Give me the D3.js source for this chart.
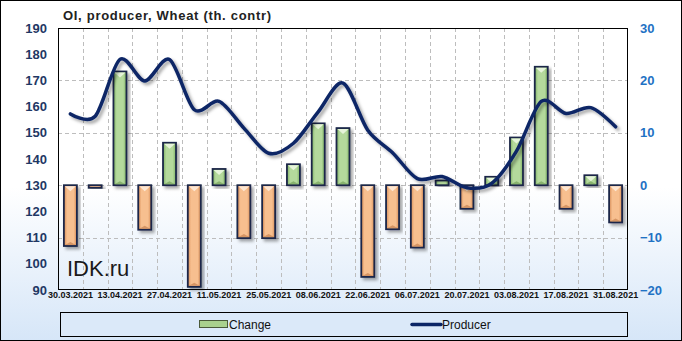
<!DOCTYPE html>
<html><head><meta charset="utf-8">
<script src="https://cdn.jsdelivr.net/npm/d3@7/dist/d3.min.js"></script>
<style>html,body{margin:0;padding:0;background:#fff}</style>
</head><body>
<svg id="c" width="682" height="341"></svg>
<script>
const dates = ["30.03.2021","06.04.2021","13.04.2021","20.04.2021","27.04.2021","04.05.2021","11.05.2021","18.05.2021","25.05.2021","01.06.2021","08.06.2021","15.06.2021","22.06.2021","29.06.2021","06.07.2021","13.07.2021","20.07.2021","27.07.2021","03.08.2021","10.08.2021","17.08.2021","24.08.2021","31.08.2021"];
const changeValues = [-11.6,-0.5,21.7,-8.5,8.1,-19.4,3.1,-10.1,-10.1,4.0,11.8,10.9,-17.5,-8.4,-11.9,0.9,-4.5,1.6,9.1,22.6,-4.5,1.9,-7.1];
const producerValues = [157.2,156.3,178,169.8,178,158.8,162,151.8,142.2,146,158,169,151,142.4,132.5,133.3,129,130.7,143,162,157.4,159.6,152.3];
const xTickLabels = ["30.03.2021","13.04.2021","27.04.2021","11.05.2021","25.05.2021","08.06.2021","22.06.2021","06.07.2021","20.07.2021","03.08.2021","17.08.2021","31.08.2021"];
const leftTicks = [90,100,110,120,130,140,150,160,170,180,190];
const rightTicks = [-20,-10,0,10,20,30];
const gridTicks = [-10,0,10,20];
const title = "OI,  producer, Wheat (th. contr)";
const seriesNames = ["Change","Producer"];

const svg = d3.select("#c");
const W = 682, H = 341;
const L = 58, R = 628, T = 28, B = 290;

const defs = svg.append("defs");
const bg = defs.append("linearGradient").attr("id","bg").attr("x1",0).attr("y1",0).attr("x2",0).attr("y2",1);
bg.append("stop").attr("offset","0%").attr("stop-color","#ffffff");
bg.append("stop").attr("offset","55%").attr("stop-color","#ffffff");
bg.append("stop").attr("offset","100%").attr("stop-color","#d6e6f8");
const gG = defs.append("linearGradient").attr("id","gG").attr("x1",0).attr("y1",0).attr("x2",1).attr("y2",0);
gG.append("stop").attr("offset","0%").attr("stop-color","#7eb062");
gG.append("stop").attr("offset","25%").attr("stop-color","#b4d99c");
gG.append("stop").attr("offset","75%").attr("stop-color","#b4d99c");
gG.append("stop").attr("offset","100%").attr("stop-color","#7eb062");
const gO = defs.append("linearGradient").attr("id","gO").attr("x1",0).attr("y1",0).attr("x2",1).attr("y2",0);
gO.append("stop").attr("offset","0%").attr("stop-color","#d68c56");
gO.append("stop").attr("offset","25%").attr("stop-color","#f7bf8f");
gO.append("stop").attr("offset","75%").attr("stop-color","#f7bf8f");
gO.append("stop").attr("offset","100%").attr("stop-color","#d68c56");
const sh = defs.append("filter").attr("id","sh").attr("x","-30%").attr("y","-20%").attr("width","160%").attr("height","140%");
sh.append("feDropShadow").attr("dx",2.5).attr("dy",2.5).attr("stdDeviation",1.5).attr("flood-color","#000").attr("flood-opacity",0.35);

svg.append("rect").attr("x",0.5).attr("y",0.5).attr("width",W-1).attr("height",H-1)
  .attr("fill","url(#bg)").attr("stroke","#000").attr("stroke-width",1);

const x = d3.scaleBand().domain(dates).range([L,R]).padding(0);
const yL = d3.scaleLinear().domain([90,190]).range([B,T]);
const yR = d3.scaleLinear().domain([-20,30]).range([B,T]);

// grid
const grid = svg.append("g").attr("stroke","#bdbdbd").attr("stroke-dasharray","4,3").attr("stroke-width",1);
dates.slice(1).forEach(d => {
  const gx = Math.round(x(d)) + 0.5;
  grid.append("line").attr("x1",gx).attr("x2",gx).attr("y1",T).attr("y2",B);
});
gridTicks.forEach(v => {
  const gy = Math.round(yR(v)) + 0.5;
  grid.append("line").attr("x1",L).attr("x2",R).attr("y1",gy).attr("y2",gy);
});

// bars
const bw = 13;
const bars = svg.append("g");
dates.forEach((d,i) => {
  const v = changeValues[i];
  const cx = x(d) + x.bandwidth()/2;
  const y0 = yR(0), y1 = yR(v);
  const top = Math.min(y0,y1), h = Math.max(Math.abs(y1-y0),1.5);
  const g = bars.append("g");
  g.append("rect").attr("x",cx-bw/2).attr("y",top).attr("width",bw).attr("height",h)
    .attr("fill", v>=0 ? "url(#gG)" : "url(#gO)").attr("stroke","#1c2748").attr("stroke-width",1.8)
    .attr("filter","url(#sh)");
  if (h > 6) {
    g.append("path").attr("d",`M${cx-bw/2+1},${top+1}L${cx+bw/2-1},${top+1}L${cx},${top+6}Z`)
      .attr("fill", v>=0 ? "#e6f4da" : "#fde6d2");
    g.append("path").attr("d",`M${cx-bw/2+1},${top+h-1}L${cx+bw/2-1},${top+h-1}L${cx},${top+h-4}Z`)
      .attr("fill", v>=0 ? "#6a9a50" : "#c07a48").attr("opacity",0.6);
  }
});

// line
const line = d3.line().x((d,i)=>x(dates[i])+x.bandwidth()/2).y(d=>yL(d)).curve(d3.curveCardinal.tension(0.1));
svg.append("path").datum(producerValues).attr("d",line).attr("fill","none")
  .attr("stroke","#0b2566").attr("stroke-width",3.5).attr("stroke-linecap","round").attr("filter","url(#sh)");

// plot border
svg.append("rect").attr("x",L+0.5).attr("y",T+0.5).attr("width",R-L-1).attr("height",B-T-1)
  .attr("fill","none").attr("stroke","#000").attr("stroke-width",1);

// axes
const axL = svg.append("g").attr("transform",`translate(${L},0)`)
  .call(d3.axisLeft(yL).tickValues(leftTicks).tickSize(0).tickPadding(11).tickFormat(d3.format("d")));
axL.select(".domain").remove();
axL.selectAll("text").attr("font-family","Liberation Sans, Arial, sans-serif").attr("font-weight","bold").attr("font-size",13).attr("fill","#1f3864");
const axR = svg.append("g").attr("transform",`translate(${R},0)`)
  .call(d3.axisRight(yR).tickValues(rightTicks).tickSize(0).tickPadding(12).tickFormat(d3.format("d")));
axR.select(".domain").remove();
axR.selectAll("text").attr("font-family","Liberation Sans, Arial, sans-serif").attr("font-weight","bold").attr("font-size",13).attr("fill","#1f72c4");
const axB = svg.append("g").attr("transform",`translate(0,${B})`)
  .call(d3.axisBottom(x).tickValues(xTickLabels).tickSize(0).tickPadding(1));
axB.select(".domain").remove();
axB.selectAll("text").attr("font-family","Liberation Sans, Arial, sans-serif").attr("font-weight","bold").attr("font-size",9).attr("fill","#111").attr("dy","0.75em");

// title
svg.append("text").attr("x",63).attr("y",19.5).text(title).attr("letter-spacing",0.7)
  .attr("font-family","Liberation Sans, Arial, sans-serif").attr("font-weight","bold").attr("font-size",13).attr("fill","#222");

// watermark
svg.append("text").attr("x",67).attr("y",276).text("IDK.ru")
  .attr("font-family","Liberation Sans, Arial, sans-serif").attr("font-size",22).attr("fill","#1a1a1a");

// legend
svg.append("rect").attr("x",60.5).attr("y",312.5).attr("width",567).attr("height",24)
  .attr("fill","#dbe9f9").attr("stroke","#000").attr("stroke-width",1);
svg.append("rect").attr("x",199.5).attr("y",320.5).attr("width",28).attr("height",7)
  .attr("fill","#a9d18e").attr("stroke","#4a5a3a").attr("stroke-width",1);
svg.append("text").attr("x",229).attr("y",329).text(seriesNames[0])
  .attr("font-family","Liberation Sans, Arial, sans-serif").attr("font-size",12).attr("fill","#111");
svg.append("line").attr("x1",412).attr("x2",441).attr("y1",324.5).attr("y2",324.5)
  .attr("stroke","#0b2566").attr("stroke-width",3.5).attr("stroke-linecap","round");
svg.append("text").attr("x",442).attr("y",329).text(seriesNames[1])
  .attr("font-family","Liberation Sans, Arial, sans-serif").attr("font-size",12).attr("fill","#111");
</script>
</body></html>
